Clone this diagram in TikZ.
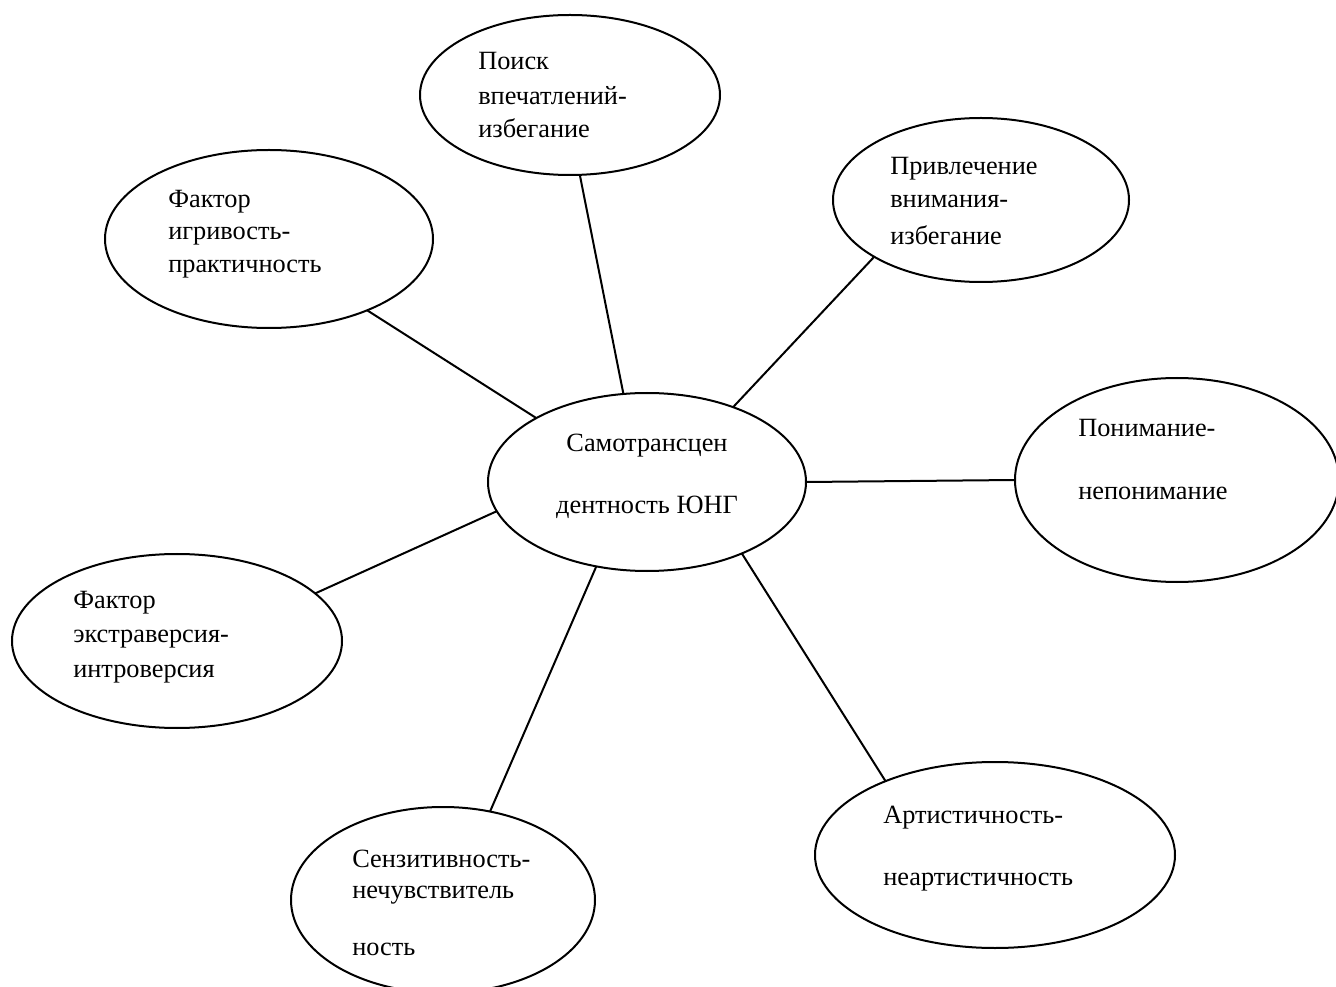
\documentclass[tikz,border=0pt]{standalone}
\usepackage{fontspec}
\setmainfont{Liberation Serif}
\usetikzlibrary{shapes.geometric}
\begin{document}
\begin{tikzpicture}[x=0.75pt,y=-0.75pt,
  bub/.style n args={2}{ellipse, draw, line width=1.5pt, inner sep=0pt, outer sep=0pt, minimum width=#1*1.5pt, minimum height=#2*1.5pt},
  lbl/.style={anchor=base west, inner sep=0pt, font=\fontsize{19.75pt}{23pt}\selectfont},
  clbl/.style={lbl, anchor=base},
  link/.style={line width=1.5pt}]
\useasboundingbox (0,0) rectangle (1336,987);
\clip (0,0) rectangle (1336,987);
% ellipses
\node[bub={159}{89}] (c) at (647,482) {};
\node[bub={150}{80}] (p) at (570,95) {};
\node[bub={164}{89}] (i) at (269,239) {};
\node[bub={148}{82}] (v) at (981,200) {};
\node[bub={162}{102}] (u) at (1177,480) {};
\node[bub={165}{87}] (e) at (177,641) {};
\node[bub={152}{93}] (s) at (443,900) {};
\node[bub={180}{93}] (a) at (995,855) {};
% connectors
\draw[link] (c.105.7) -- (p.-83);
\draw[link] (c.150.5) -- (i.-36.4);
\draw[link] (c.41.1) -- (v.208.7);
\draw[link] (c.0) -- (u.180);
\draw[link] (c.191.8) -- (e.19.9);
\draw[link] (c.239.4) -- (s.62.4);
\draw[link] (c.-37.7) -- (a.146);
% texts
\node[clbl] (ct1) at (647,452) {Самотрансцен};
\node[clbl] (ct2) at (647,513) {дентность ЮНГ};
\node[lbl] (pt1) at (478,70) {Поиск};
\node[lbl] (pt2) at (478,105) {впечатлений-};
\node[lbl] (pt3) at (478,138) {избегание};
\node[lbl] (it1) at (168,208) {Фактор};
\node[lbl] (it2) at (168,240) {игривость-};
\node[lbl] (it3) at (168,273) {практичность};
\node[lbl] (vt1) at (890,175) {Привлечение};
\node[lbl] (vt2) at (890,208) {внимания-};
\node[lbl] (vt3) at (890,245) {избегание};
\node[lbl] (ut1) at (1078,437) {Понимание-};
\node[lbl] (ut2) at (1078,500) {непонимание};
\node[lbl] (et1) at (73,608) {Фактор};
\node[lbl] (et2) at (73,642) {экстраверсия-};
\node[lbl] (et3) at (73,677) {интроверсия};
\node[lbl] (st1) at (352,867) {Сензитивность-};
\node[lbl] (st2) at (352,898) {нечувствитель};
\node[lbl] (st3) at (352,955) {ность};
\node[lbl] (at1) at (883,823) {Артистичность-};
\node[lbl] (at2) at (883,885) {неартистичность};
\end{tikzpicture}
\end{document}
